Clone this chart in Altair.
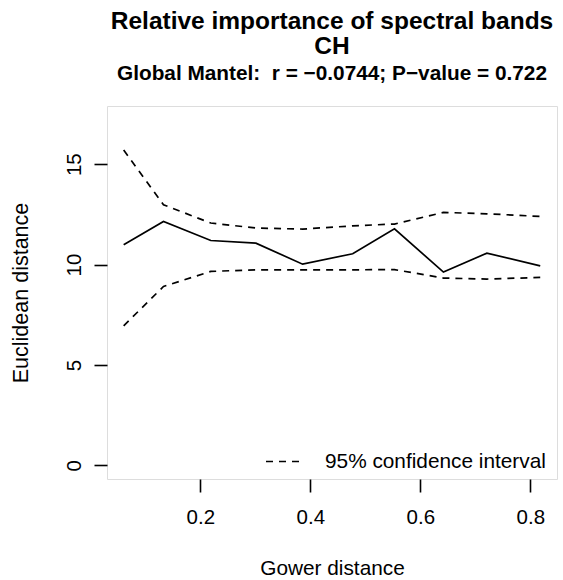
import altair as alt
import pandas as pd

# Data (Mantel correlogram)
gower = [0.0606, 0.133, 0.219, 0.301, 0.386, 0.477, 0.553, 0.642, 0.721, 0.818]
euclid = [10.99, 12.15, 11.20, 11.07, 10.02, 10.54, 11.78, 9.63, 10.57, 9.94]
upper = [15.71, 12.98, 12.07, 11.82, 11.77, 11.93, 12.02, 12.60, 12.53, 12.40]
lower = [6.95, 8.91, 9.66, 9.74, 9.74, 9.74, 9.75, 9.33, 9.28, 9.36]

x_ticks = [0.2, 0.4, 0.6, 0.8]
y_ticks = [0, 5, 10, 15]
ci_label = "95% confidence interval"

FONT = "Liberation Sans"

df_obs = pd.DataFrame({"x": gower, "y": euclid})
df_ci = pd.DataFrame({
    "x": gower + gower,
    "y": upper + lower,
    "bound": ["upper"] * len(gower) + ["lower"] * len(gower),
    "kind": [ci_label] * (2 * len(gower)),
})

x_scale = alt.Scale(domain=[0.0303, 0.8485], nice=False, zero=False)
y_scale = alt.Scale(domain=[-0.68, 17.9], nice=False, zero=False)

x_axis = alt.Axis(
    values=x_ticks, format=".1f", title="Gower distance",
    domain=False, grid=False,
    tickSize=13, tickWidth=1.6, tickColor="black",
    labelFont=FONT, labelFontSize=20.5, labelColor="black",
    labelPadding=15.5, labelBaseline="top",
    titleFont=FONT, titleFontSize=20.8, titleFontWeight="normal", titleColor="black",
    titleBaseline="alphabetic", titleX=225, titleY=95, titleAlign="center",
)
y_axis = alt.Axis(
    values=y_ticks, format="d", title="Euclidean distance",
    domain=False, grid=False,
    tickSize=13, tickWidth=1.6, tickColor="black",
    labelFont=FONT, labelFontSize=20.5, labelColor="black",
    labelAngle=270, labelAlign="center", labelBaseline="alphabetic", labelPadding=14,
    titleFont=FONT, titleFontSize=21.5, titleFontWeight="normal", titleColor="black",
    titleAngle=270, titleAlign="center", titleBaseline="alphabetic",
    titleX=-80, titleY=186.5,
)

obs = alt.Chart(df_obs).mark_line(color="black", strokeWidth=1.7).encode(
    x=alt.X("x:Q", scale=x_scale, axis=x_axis),
    y=alt.Y("y:Q", scale=y_scale, axis=y_axis),
)

ci = alt.Chart(df_ci).mark_line(color="black", strokeWidth=1.7).encode(
    x=alt.X("x:Q", scale=x_scale),
    y=alt.Y("y:Q", scale=y_scale),
    detail="bound:N",
    strokeDash=alt.StrokeDash(
        "kind:N",
        scale=alt.Scale(domain=[ci_label], range=[[7, 6]]),
        legend=alt.Legend(
            title=None, orient="none", legendX=158, legendY=338,
            symbolType="stroke", symbolSize=1089, symbolStrokeWidth=1.7,
            symbolStrokeColor="black",
            labelFont=FONT, labelFontSize=20.8, labelColor="black",
            labelOffset=25, labelLimit=0, padding=0,
        ),
    ),
)

chart = alt.layer(obs, ci).properties(
    width=450,
    height=373,
    autosize=alt.AutoSizeParams(type="none"),
    padding={"left": 107, "top": 106, "right": 6, "bottom": 101},
    title=alt.TitleParams(
        text=["Relative importance of spectral bands", "CH"],
        subtitle="Global Mantel:\u00a0 r = \u22120.0744; P\u2212value = 0.722",
        font=FONT, fontSize=24.5, fontWeight="bold", color="black",
        lineHeight=24.5,
        subtitleFont=FONT, subtitleFontSize=20.8, subtitleFontWeight="bold",
        subtitleColor="black", subtitlePadding=4.5,
        anchor="middle", frame="group", offset=21.5,
    ),
).configure_view(stroke="black", strokeWidth=1.6).configure(background="white")

chart.save("out.html", embed_options={"renderer": "svg", "actions": False})
